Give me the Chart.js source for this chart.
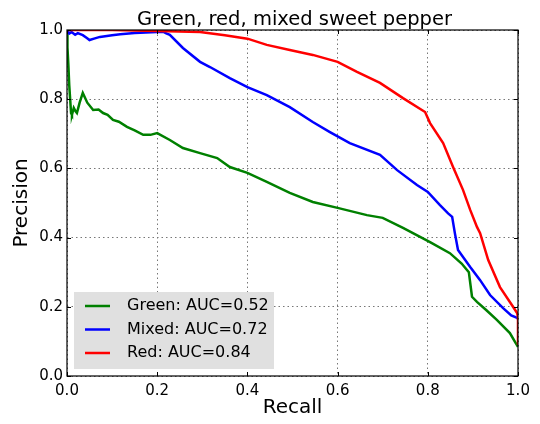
<!DOCTYPE html>
<html>
<head>
<meta charset="utf-8">
<script src="https://cdn.jsdelivr.net/npm/chart.js@4"></script>
<style>
  html, body { margin: 0; padding: 0; background: #fff; }
  #wrap { width: 540px; height: 424px; }
</style>
</head>
<body>
<div id="wrap"><canvas id="prChart" width="540" height="424"></canvas></div>
<script>
// Precision-recall curves
const greenRecall = [0, 0.001, 0.003, 0.005, 0.007, 0.009, 0.011, 0.015, 0.019, 0.022, 0.028, 0.035, 0.045, 0.058, 0.07, 0.08, 0.09, 0.102, 0.115, 0.133, 0.15, 0.169, 0.185, 0.2, 0.228, 0.257, 0.295, 0.333, 0.361, 0.4, 0.443, 0.494, 0.545, 0.6, 0.665, 0.7, 0.745, 0.805, 0.849, 0.875, 0.891, 0.898, 0.909, 0.93, 0.953, 0.982, 0.995, 1.0];
const greenPrecision = [1.0, 0.95, 0.9, 0.84, 0.8, 0.76, 0.755, 0.775, 0.765, 0.76, 0.79, 0.818, 0.79, 0.769, 0.77, 0.76, 0.755, 0.74, 0.735, 0.72, 0.71, 0.697, 0.697, 0.702, 0.682, 0.659, 0.644, 0.63, 0.604, 0.587, 0.561, 0.529, 0.503, 0.486, 0.465, 0.457, 0.428, 0.387, 0.355, 0.325, 0.3, 0.229, 0.214, 0.19, 0.162, 0.124, 0.095, 0.084];

const mixedRecall = [0, 0.005, 0.01, 0.018, 0.024, 0.035, 0.044, 0.05, 0.06, 0.073, 0.1, 0.118, 0.15, 0.2, 0.213, 0.22, 0.228, 0.257, 0.295, 0.317, 0.361, 0.4, 0.443, 0.494, 0.545, 0.583, 0.627, 0.694, 0.732, 0.776, 0.8, 0.827, 0.845, 0.854, 0.86, 0.867, 0.894, 0.916, 0.938, 0.967, 0.985, 0.998, 1.0];
const mixedPrecision = [1.0, 0.99, 0.994, 0.986, 0.991, 0.985, 0.977, 0.971, 0.975, 0.98, 0.985, 0.988, 0.991, 0.994, 0.995, 0.99, 0.986, 0.948, 0.908, 0.893, 0.861, 0.835, 0.812, 0.777, 0.734, 0.705, 0.673, 0.639, 0.595, 0.552, 0.532, 0.494, 0.47, 0.46, 0.413, 0.364, 0.315, 0.277, 0.234, 0.196, 0.175, 0.168, 0.165];

const redRecall = [0, 0.1, 0.2, 0.295, 0.35, 0.4, 0.443, 0.494, 0.545, 0.6, 0.643, 0.694, 0.745, 0.794, 0.805, 0.834, 0.856, 0.878, 0.894, 0.909, 0.916, 0.934, 0.96, 0.989, 0.998, 1.0, 1.0];
const redPrecision = [1.0, 1.0, 0.997, 0.994, 0.985, 0.975, 0.957, 0.942, 0.928, 0.908, 0.879, 0.847, 0.803, 0.763, 0.731, 0.673, 0.604, 0.538, 0.48, 0.431, 0.413, 0.335, 0.257, 0.2, 0.182, 0.17, 0.09];

const seriesLabels = ['Green: AUC=0.52', 'Mixed: AUC=0.72', 'Red: AUC=0.84'];
const tickValues = [0, 0.2, 0.4, 0.6, 0.8, 1.0];
const chartTitle = 'Green, red, mixed sweet pepper';

const FONT = 'DejaVu Sans';

function toPoints(xs, ys) {
    return xs.map((x, i) => ({ x: x, y: ys[i] }));
}

// title over the axes, frame, inward ticks and the legend box inside the plot
const framePlugin = {
    id: 'frame',
    afterDraw(chart) {
        const ctx = chart.ctx;
        const a = chart.chartArea;
        const xs = chart.scales.x;
        const ys = chart.scales.y;
        ctx.save();

        // title centred on the plot area
        ctx.fillStyle = '#000';
        ctx.font = '19.5px "' + FONT + '"';
        ctx.textAlign = 'center';
        ctx.textBaseline = 'alphabetic';
        ctx.fillText(chartTitle, (a.left + a.right) / 2 + 2, 25);

        // legend
        const bx = 74, by = 292, bw = 200, bh = 77;
        ctx.fillStyle = '#e0e0e0';
        ctx.fillRect(bx, by, bw, bh);
        ctx.font = '16px "' + FONT + '"';
        ctx.textBaseline = 'middle';
        ctx.textAlign = 'left';
        chart.data.datasets.forEach((ds, i) => {
            const cy = by + 14 + i * 23.5;
            ctx.strokeStyle = ds.borderColor;
            ctx.lineWidth = 2.5;
            ctx.beginPath();
            ctx.moveTo(bx + 11, cy);
            ctx.lineTo(bx + 36, cy);
            ctx.stroke();
            ctx.fillStyle = '#000';
            ctx.fillText(ds.label, bx + 53, cy);
        });

        // ticks pointing inward
        ctx.strokeStyle = '#000';
        ctx.lineWidth = 1;
        ctx.beginPath();
        tickValues.forEach(v => {
            const px = Math.round(xs.getPixelForValue(v)) + 0.5;
            ctx.moveTo(px, a.bottom); ctx.lineTo(px, a.bottom - 4);
            ctx.moveTo(px, a.top); ctx.lineTo(px, a.top + 4);
            const py = Math.round(ys.getPixelForValue(v)) + 0.5;
            ctx.moveTo(a.left, py); ctx.lineTo(a.left + 4, py);
            ctx.moveTo(a.right, py); ctx.lineTo(a.right - 4, py);
        });
        ctx.stroke();

        ctx.lineWidth = 1.2;
        ctx.strokeRect(a.left, a.top, a.right - a.left, a.bottom - a.top);
        ctx.restore();
    }
};

const ctx = document.getElementById('prChart').getContext('2d');
new Chart(ctx, {
    type: 'line',
    data: {
        datasets: [
            {
                label: seriesLabels[0],
                data: toPoints(greenRecall, greenPrecision),
                borderColor: '#008000',
                order: 3
            },
            {
                label: seriesLabels[1],
                data: toPoints(mixedRecall, mixedPrecision),
                borderColor: '#0000ff',
                order: 2
            },
            {
                label: seriesLabels[2],
                data: toPoints(redRecall, redPrecision),
                borderColor: '#ff0000',
                order: 1
            }
        ]
    },
    options: {
        responsive: false,
        animation: false,
        parsing: false,
        datasets: {
            line: {
                borderWidth: 2.5,
                pointRadius: 0,
                tension: 0,
                fill: false
            }
        },
        layout: {
            padding: { left: 0, right: 22, top: 30, bottom: 0 }
        },
        plugins: {
            legend: { display: false },
            tooltip: { enabled: false },
            title: { display: false }
        },
        scales: {
            x: {
                type: 'linear',
                min: 0,
                max: 1,
                afterFit(scale) { scale.height = 48; },
                afterBuildTicks(scale) { scale.ticks = tickValues.map(v => ({ value: v })); },
                ticks: {
                    color: '#000',
                    padding: 6,
                    maxRotation: 0,
                    font: { family: FONT, size: 15 },
                    callback: v => v.toFixed(1)
                },
                grid: {
                    color: '#777',
                    lineWidth: 1,
                    drawTicks: false
                },
                border: { display: false, dash: [1.5, 3] },
                title: {
                    display: true,
                    text: 'Recall',
                    color: '#000',
                    font: { family: FONT, size: 20 },
                    padding: { top: 0, bottom: 4 }
                }
            },
            y: {
                type: 'linear',
                min: 0,
                max: 1,
                afterFit(scale) { scale.width = 67; },
                afterBuildTicks(scale) { scale.ticks = tickValues.map(v => ({ value: v })); },
                ticks: {
                    color: '#000',
                    padding: 4,
                    font: { family: FONT, size: 15 },
                    callback: v => v.toFixed(1)
                },
                grid: {
                    color: '#777',
                    lineWidth: 1,
                    drawTicks: false
                },
                border: { display: false, dash: [1.5, 3] },
                title: {
                    display: true,
                    text: 'Precision',
                    color: '#000',
                    font: { family: FONT, size: 20 },
                    padding: { top: 10, bottom: 0 }
                }
            }
        }
    },
    plugins: [framePlugin]
});
</script>
</body>
</html>
